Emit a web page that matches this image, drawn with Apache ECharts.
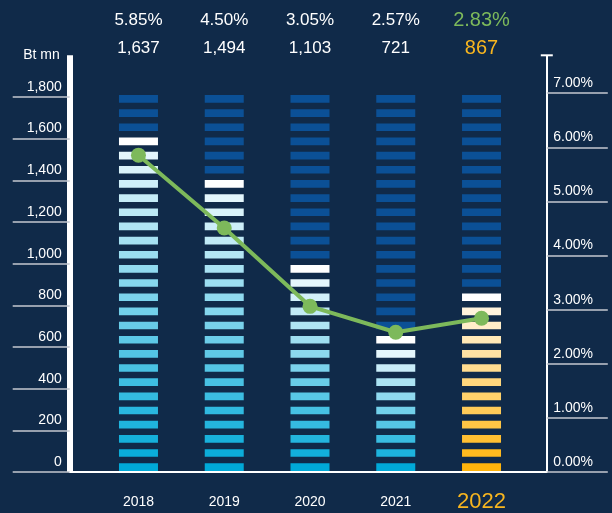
<!DOCTYPE html>
<html>
<head>
<meta charset="utf-8">
<script src="https://cdn.jsdelivr.net/npm/echarts@6/dist/echarts.min.js"></script>
<style>
html, body { margin: 0; padding: 0; background: #102a49; }
#chart { width: 612px; height: 513px; }
</style>
</head>
<body>
<div id="chart"></div>
<script>
var years = ['2018', '2019', '2020', '2021', '2022'];
var profit = [1637, 1494, 1103, 721, 867];
var ratio = [5.85, 4.50, 3.05, 2.57, 2.83];
// lit stripes in each bar, counted off the picture (every bar has 27)
var litStripes = [24, 21, 15, 10, 13];
var stripeCount = 27;
var leftTicks = [0, 200, 400, 600, 800, 1000, 1200, 1400, 1600, 1800];
var rightTicks = [0, 1, 2, 3, 4, 5, 6, 7];

var hotIndex = years.length - 1;

function hex(c) {
  return [parseInt(c.substr(1, 2), 16), parseInt(c.substr(3, 2), 16), parseInt(c.substr(5, 2), 16)];
}
function mix(a, b, t) {
  var x = hex(a), y = hex(b);
  var r = x.map(function (v, j) { return Math.round(v + (y[j] - v) * t); });
  return 'rgb(' + r.join(',') + ')';
}

function renderStripes(params, api) {
  var i = api.value(0);
  var lit = api.value(1);
  var cx = api.coord([i, 0])[0];
  var hot = i === hotIndex;
  var low = hot ? '#ffb40c' : '#00a9d8';
  var high = hot ? '#fff3dc' : '#e4f6fc';
  var children = [];
  for (var k = 0; k < stripeCount; k++) {
    var yb = api.coord([i, k])[1];
    var yt = api.coord([i, k + 0.54])[1];
    var fill;
    if (k >= lit) fill = '#0b5096';
    else if (k === lit - 1) fill = '#ffffff';
    else fill = mix(low, high, k / Math.max(lit - 2, 1));
    children.push({
      type: 'rect',
      shape: { x: cx - 19.5, y: yt, width: 39, height: yb - yt },
      style: { fill: fill }
    });
  }
  return { type: 'group', children: children };
}

var myChart = echarts.init(document.getElementById('chart'));

var option = {
  backgroundColor: '#102a49',
  animation: false,
  textStyle: { fontFamily: 'Liberation Sans, Arial, sans-serif' },
  grid: [
    // frame: the two value axes and the long base line
    { left: 69.7, right: 65.2, top: 55.3, bottom: 41 },
    // plot area for the bars and the line
    { left: 95.6, right: 87.6, top: 55.3, bottom: 41 }
  ],
  xAxis: [
    {
      gridIndex: 0, type: 'value', min: 0, max: 1,
      axisLine: { show: true, lineStyle: { color: '#ffffff', width: 2 } },
      axisTick: { show: false }, axisLabel: { show: false }, splitLine: { show: false }
    },
    {
      gridIndex: 1, type: 'category', data: years, position: 'bottom',
      axisLine: { show: false }, axisTick: { show: false }, splitLine: { show: false },
      axisLabel: {
        margin: 19,
        formatter: function (v, i) {
          return i === hotIndex ? '{h|' + v + '}' : '{y|' + v + '}';
        },
        rich: {
          y: { fontSize: 14, color: '#ffffff', lineHeight: 24 },
          h: { fontSize: 22, color: '#f7b51f', lineHeight: 24 }
        }
      }
    },
    {
      gridIndex: 1, type: 'category', data: years, position: 'top',
      axisLine: { show: false }, axisTick: { show: false }, splitLine: { show: false },
      axisLabel: {
        margin: 49,
        verticalAlign: 'top',
        formatter: function (v, i) {
          var p = ratio[i].toFixed(2) + '%';
          var n = profit[i].toLocaleString('en-US');
          return i === hotIndex ? '{pg|' + p + '}\n{vo|' + n + '}' : '{p|' + p + '}\n{v|' + n + '}';
        },
        rich: {
          p: { fontSize: 17, color: '#ffffff', lineHeight: 28 },
          v: { fontSize: 17, color: '#ffffff', lineHeight: 28 },
          pg: { fontSize: 20, color: '#7db95b', lineHeight: 28 },
          vo: { fontSize: 20, color: '#f7b51f', lineHeight: 28 }
        }
      }
    }
  ],
  yAxis: [
    {
      gridIndex: 0, type: 'value', min: 0, max: 2000, position: 'left',
      name: 'Bt mn', nameLocation: 'end', nameGap: 0,
      nameTextStyle: { color: '#ffffff', fontSize: 14, align: 'right', verticalAlign: 'middle', padding: [0, 10, 0, 0] },
      axisLine: { show: true, lineStyle: { color: '#ffffff', width: 6, cap: 'butt' } },
      axisTick: { show: true, length: 57, customValues: leftTicks, lineStyle: { color: '#c3c8d0', width: 1.5 } },
      axisLabel: {
        customValues: leftTicks, margin: 8, color: '#ffffff', fontSize: 14,
        verticalAlign: 'bottom', padding: [0, 0, 3, 0],
        formatter: function (v) { return v.toLocaleString('en-US'); }
      },
      splitLine: { show: false }
    },
    {
      gridIndex: 0, type: 'value', min: 0, max: 7.7, position: 'right',
      axisLine: { show: true, symbol: ['none', 'rect'], symbolSize: [12, 2], lineStyle: { color: '#ffffff', width: 2, cap: 'butt' } },
      axisTick: { show: true, length: 61, customValues: rightTicks, lineStyle: { color: '#c3c8d0', width: 1.5 } },
      axisLabel: {
        customValues: rightTicks, margin: 6.5, color: '#ffffff', fontSize: 14,
        verticalAlign: 'bottom', padding: [0, 0, 3, 0],
        formatter: function (v) { return v.toFixed(2) + '%'; }
      },
      splitLine: { show: false }
    },
    // stripe units for the bars
    { gridIndex: 1, type: 'value', min: 0, max: 29.35, show: false, splitLine: { show: false } },
    // ratio scale for the line, same as the right axis
    { gridIndex: 1, type: 'value', min: 0, max: 7.7, show: false, splitLine: { show: false } }
  ],
  series: [
    {
      name: 'profit',
      type: 'custom',
      xAxisIndex: 1,
      yAxisIndex: 2,
      renderItem: renderStripes,
      encode: { x: 0, y: 1 },
      data: years.map(function (y, i) { return [i, litStripes[i]]; }),
      z: 2
    },
    {
      name: 'ratio',
      type: 'line',
      xAxisIndex: 1,
      yAxisIndex: 3,
      data: ratio,
      symbol: 'circle',
      symbolSize: 15,
      itemStyle: { color: '#7db95b' },
      lineStyle: { color: '#7db95b', width: 4 },
      z: 10
    }
  ]
};

myChart.setOption(option);
</script>
</body>
</html>
